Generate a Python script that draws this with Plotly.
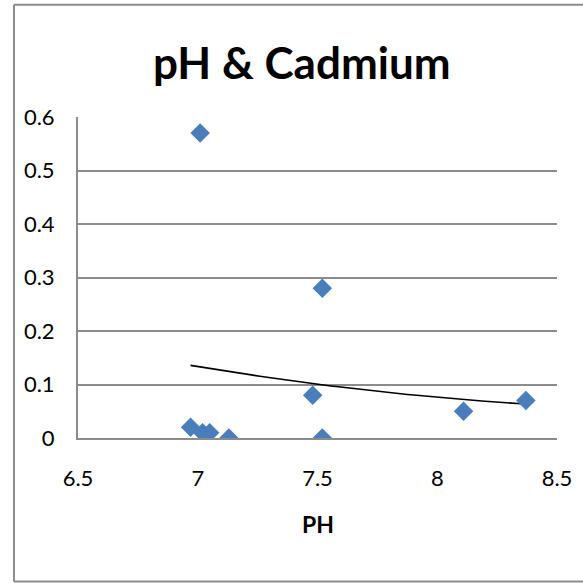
import numpy as np
import plotly.graph_objects as go

# pH readings and cadmium concentrations
ph = [6.97, 7.01, 7.02, 7.05, 7.13, 7.48, 7.52, 7.52, 8.11, 8.37]
cadmium = [0.02, 0.57, 0.01, 0.01, 0.00, 0.08, 0.28, 0.00, 0.05, 0.07]

x_ticks = [6.5, 7, 7.5, 8, 8.5]
y_ticks = [0, 0.1, 0.2, 0.3, 0.4, 0.5, 0.6]

title_text = "pH & Cadmium"
x_title = "PH"

# second-order trend line fitted to the points
coef = np.polyfit(ph, cadmium, 2)
trend_x = np.linspace(min(ph), max(ph), 100)
trend_y = np.polyval(coef, trend_x)

FONT = "Lato"
GRID = "#8c8c8c"

fig = go.Figure()
fig.add_trace(go.Scatter(
    x=trend_x, y=trend_y, mode="lines",
    line=dict(color="black", width=1.6),
    hoverinfo="skip", showlegend=False,
))
fig.add_trace(go.Scatter(
    x=ph, y=cadmium, mode="markers",
    marker=dict(symbol="diamond", size=15, color="#4a7ebb",
                line=dict(width=0)),
    showlegend=False,
))

fig.update_layout(
    width=583, height=583,
    margin=dict(l=78, r=26, t=117, b=145),
    paper_bgcolor="white", plot_bgcolor="white",
    font=dict(family=FONT, size=22, color="black"),
    xaxis=dict(
        range=[6.5, 8.5], tickvals=x_ticks,
        ticktext=[f"{v:g}" for v in x_ticks],
        showgrid=False, zeroline=False,
        showline=True, linecolor=GRID, linewidth=2,
        ticks="outside", ticklen=20, tickcolor="rgba(0,0,0,0)",
        fixedrange=True,
    ),
    yaxis=dict(
        range=[0, 0.6], tickvals=y_ticks,
        ticktext=[f"{v:g}" for v in y_ticks],
        showgrid=True, gridcolor=GRID, gridwidth=2,
        zeroline=False,
        showline=True, linecolor=GRID, linewidth=2,
        ticks="outside", ticklen=17, tickcolor="rgba(0,0,0,0)",
        fixedrange=True,
    ),
    annotations=[
        dict(text=f"<b>{title_text}</b>", x=0.4666, y=1.171,
             xref="paper", yref="paper", xanchor="center", yanchor="middle",
             showarrow=False, font=dict(family=FONT, size=44)),
        dict(text=f"<b>{x_title}</b>", x=0.5, y=-0.269,
             xref="paper", yref="paper", xanchor="center", yanchor="middle",
             showarrow=False, font=dict(family=FONT, size=23)),
    ],
    shapes=[
        # chart frame: left, top and bottom edges
        dict(type="line", xref="paper", yref="paper",
             x0=-0.1336, x1=-0.1336, y0=-0.447, y1=1.3496,
             line=dict(color=GRID, width=2)),
        dict(type="line", xref="paper", yref="paper",
             x0=-0.1336, x1=1.06, y0=1.3496, y1=1.3496,
             line=dict(color=GRID, width=2)),
        dict(type="line", xref="paper", yref="paper",
             x0=-0.1336, x1=1.06, y0=-0.447, y1=-0.447,
             line=dict(color=GRID, width=2)),
    ],
)

fig.write_html("out.html")
